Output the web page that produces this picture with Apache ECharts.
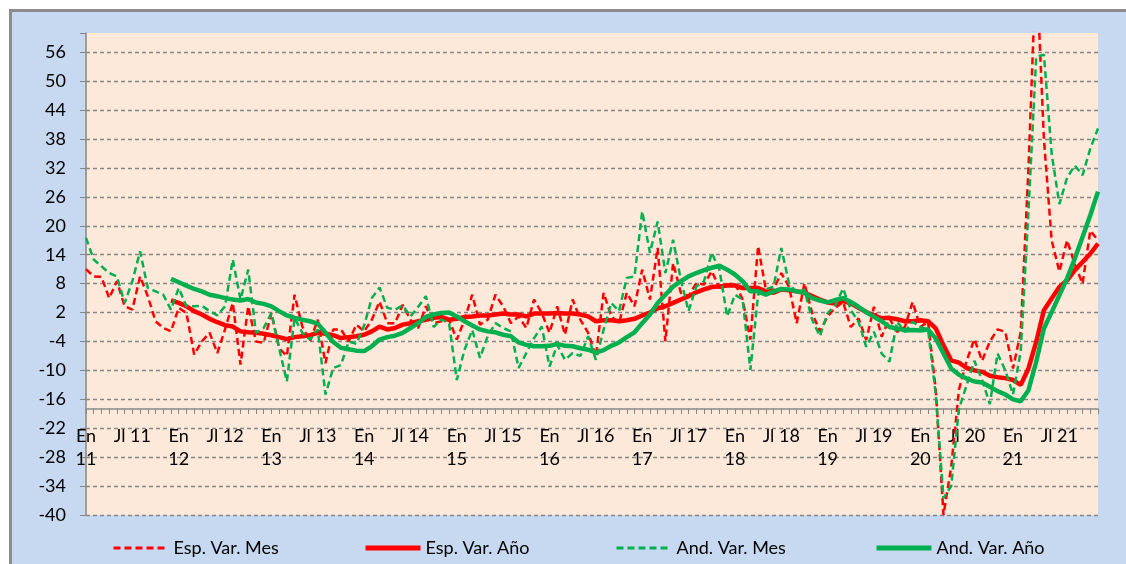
<!DOCTYPE html>
<html>
<head>
<meta charset="utf-8">
<script src="https://cdn.jsdelivr.net/npm/echarts@6/dist/echarts.min.js"></script>
<style>
  html, body { margin: 0; padding: 0; background: #fff; }
  #main { width: 1126px; height: 564px; }
</style>
</head>
<body>
<div id="main"></div>
<script>
// meses: Enero 2011 .. Diciembre 2021
const years = [11, 12, 13, 14, 15, 16, 17, 18, 19, 20, 21];
const months = [];
years.forEach(y => {
  for (let m = 0; m < 12; m++) months.push(y + "-" + (m + 1));
});

// Esp. Var. Mes (rojo discontinuo)
const espMes = [
  11, 9.5, 9.4, 5, 8.5, 3.3, 2.6, 9.5, 5.4, 0.2, -1.2, -1.9,
  3, 1.9, -6.7, -4, -2.2, -6.4, -1.5, 4, -8.8, 3.3, -4, -4.3,
  1.9, -5.4, -7, 5.7, -0.9, -4, 0.5, -8.5, -1.5, -1.5, -4, -0.5,
  -1.9, 0.5, 4.3, -0.2, -0.2, 3.6, 0.5, -1.2, 3.3, -0.2, 0.2, 0.5,
  -3.6, 0.5, 5.7, -0.5, 0.5, 5.7, 3.3, -0.2, 1.2, -1.2, 4.7, 1.9,
  -2.2, 3.3, -2.6, 4.7, 0.5, -2.2, -7.1, 6.1, 1.2, -0.2, 6.1, 3.3,
  10.9, 4.7, 15.4, -4, 12.3, 6.1, 5.4, 8.1, 7.8, 10.6, 7.1, 7.8,
  8.1, 4.7, -3.6, 15.8, 6.8, 6.8, 10.2, 7.4, -0.2, 8.1, 1.9, -1.9,
  1.2, 3, 4.2, -1, 0.8, -3.7, 3.2, -3, 0.8, -2, -1, 4.2,
  -1, 0.1, -14, -40, -30, -14, -8, -3.5, -8, -4, -1.5, -2,
  -9.6, -2, 32, 75, 38, 17, 10.5, 17, 12, 8, 19, 17
];

// Esp. Var. Año (rojo continuo), desde dic 2011
const espAnio = [
  null, null, null, null, null, null, null, null, null, null, null, 4.5,
  4, 3.3, 2.3, 1.6, 0.7, 0, -0.6, -0.9, -1.9, -2.1, -2.2, -2.4,
  -2.7, -3.1, -3.5, -3.1, -2.9, -2.7, -2.2, -2.4, -2.7, -3.3, -3.1, -2.9,
  -2.6, -1.9, -0.9, -1.5, -1.2, -0.5, -0.2, 0.2, 0.5, 0.9, 1.1, 0.5,
  0.7, 1.1, 1.2, 1.4, 1.4, 1.6, 1.8, 1.6, 1.6, 1.2, 1.8, 1.8,
  1.8, 1.9, 1.8, 1.8, 1.6, 1.2, 0.2, 0.4, 0.4, 0.2, 0.4, 0.7,
  1.4, 2.0, 2.9, 3.3, 4.0, 4.7, 5.4, 6.2, 6.8, 7.3, 7.4, 7.6,
  7.6, 7.1, 7.1, 7.1, 6.4, 6.1, 6.8, 6.6, 6.4, 6.1, 5.4, 4.7,
  4.1, 3.9, 4.4, 3.9, 3.0, 2.1, 1.4, 0.8, 0.9, 0.6, 0.2, 0.2,
  0.4, 0.2, -1.3, -4.8, -7.9, -8.4, -9.5, -10, -10.3, -11.1, -11.4, -11.6,
  -12, -13, -9.6, -4.1, 2.5, 4.9, 7.3, 8.7, 10.8, 12.5, 14.2, 16.3
];

// And. Var. Mes (verde discontinuo)
const andMes = [
  17.5, 13, 11.6, 10.2, 9.5, 4, 8.5, 14.7, 7.1, 6.4, 5.7, 2.6,
  7.1, 3.3, 3.3, 3.4, 2.3, 1.4, 3.3, 13, 4.7, 10.9, -2.2, -1.2,
  1.9, -5.4, -12.3, 0.9, -2.2, -3.6, -1.5, -15, -9.5, -8.9, -4, -4.5,
  -0.7, 5, 7.2, 3, 2.6, 3.5, 1.2, 3.2, 5.4, -1, 0.6, -0.2,
  -12, -5.7, -1.6, -7.4, -2.9, -0.2, -1.2, -1.9, -9.5, -6.4, -3.3, -0.9,
  -9.2, -4.7, -7.8, -6.4, -7, -2.9, -7.8, -1.6, 4, 2.3, 9.2, 9.5,
  23, 14.4, 20.9, 10.2, 17.1, 8.8, 2.3, 7.4, 8.5, 14.4, 10.9, 1.2,
  5.7, 4.7, -9.9, 5.7, 6.8, 7.4, 15.4, 8.1, 6.1, 6.8, 0.5, -2.9,
  1.9, 3.5, 7, 2.5, 0.1, -5.1, -2, -6.5, -8.2, 0.1, -2, 0.1,
  -1, -1.5, -15, -36.5, -34, -18, -13, -8, -12, -17, -6.5, -10,
  -15, -6, 23, 55, 55.5, 35, 24.5, 30, 32.5, 30.5, 36, 40.2
];

// And. Var. Año (verde continuo), desde dic 2011
const andAnio = [
  null, null, null, null, null, null, null, null, null, null, null, 9,
  8.3, 7.6, 6.9, 6.4, 5.7, 5.4, 5, 4.7, 4.5, 4.8, 4.1, 3.8,
  3.3, 2.3, 1.4, 0.9, 0.5, 0.2, -0.3, -2.2, -4.1, -5.3, -5.6, -5.9,
  -6.0, -5.0, -3.6, -3.1, -2.8, -2.2, -1.2, -0.2, 1.1, 1.6, 1.9, 2.0,
  1.2, 0.2, -0.7, -1.5, -1.9, -2.1, -2.6, -2.9, -4.2, -4.7, -5.0, -5.0,
  -4.9, -4.5, -4.9, -5.0, -5.4, -5.7, -6.3, -5.8, -4.9, -4.2, -3.1, -2.1,
  -0.2, 1.6, 4.0, 5.7, 7.4, 8.5, 9.5, 10.2, 10.8, 11.3, 11.7, 10.9,
  9.9, 8.5, 6.4, 6.4, 5.7, 6.4, 6.9, 6.8, 6.4, 6.1, 5.0, 4.5,
  4.1, 4.6, 5.0, 4.2, 3.2, 2.1, 1.1, 0.2, -1, -1.3, -1.7, -1.6,
  -1.7, -1.5, -3.4, -6.5, -9.6, -10.9, -11.7, -12.3, -12.5, -13.4, -14.3, -15,
  -16, -16.4, -14.1, -8.2, -1.3, 2.1, 5.6, 9.1, 13.2, 17.7, 22.2, 27.1
];

const seriesNames = ["Esp. Var. Mes", "Esp. Var. Año", "And. Var. Mes", "And. Var. Año"];
const legendLeft = [107, 358, 610, 869];
const legendLineWidth = [3, 5, 3, 5];

const RED = "#FF0000";
const GREEN = "#00B050";
const GRAY = "#868686";
const FONT = "Lato";

const chart = echarts.init(document.getElementById("main"));

function monthLabel(value, index) {
  const yy = years[Math.floor(index / 12)];
  return index % 12 === 0 ? "En\n" + yy : "Jl " + yy;
}

const option = {
  backgroundColor: "#C6D9F1",
  animation: false,
  textStyle: { fontFamily: FONT },
  graphic: [
    // marco exterior (blanco + borde gris arriba e izquierda)
    { type: "rect", left: 0, top: 0, shape: { width: 1126, height: 9 }, style: { fill: "#fff" }, silent: true },
    { type: "rect", left: 0, top: 0, shape: { width: 9, height: 564 }, style: { fill: "#fff" }, silent: true },
    { type: "rect", left: 9, top: 9, shape: { width: 1117, height: 3 }, style: { fill: "#8C8C8C" }, silent: true },
    { type: "rect", left: 9, top: 9, shape: { width: 3, height: 555 }, style: { fill: "#8C8C8C" }, silent: true }
  ],
  grid: {
    left: 86, right: 28, top: 33, bottom: 49,
    show: true, backgroundColor: "#FDE9D9", borderWidth: 0
  },
  legend: seriesNames.map((name, i) => ({
    data: [name],
    left: legendLeft[i],
    top: 534,
    itemWidth: 55,
    itemHeight: 14,
    itemStyle: { opacity: 0 },
    lineStyle: { width: legendLineWidth[i] },
    textStyle: { fontSize: 18, color: "#000", fontFamily: FONT }
  })),
  xAxis: {
    type: "category",
    data: months,
    boundaryGap: false,
    offset: -106,
    axisLine: { show: true, onZero: false, lineStyle: { color: GRAY, width: 1.5 } },
    axisTick: { show: true, interval: 0, length: 5, lineStyle: { color: GRAY, width: 1 } },
    axisLabel: {
      interval: 5,
      formatter: monthLabel,
      fontSize: 18,
      lineHeight: 23,
      color: "#000",
      margin: 16,
      fontFamily: FONT
    },
    splitLine: { show: false }
  },
  yAxis: {
    type: "value",
    min: -40,
    max: 60,
    interval: 6,
    axisLine: { show: true, lineStyle: { color: GRAY, width: 1.5 } },
    axisTick: { show: true, length: 6, lineStyle: { color: GRAY } },
    axisLabel: {
      fontSize: 18,
      color: "#000",
      margin: 20,
      fontFamily: FONT,
      formatter: v => (v > 56 ? "" : v)
    },
    splitLine: {
      show: true,
      showMaxLine: false,
      lineStyle: { color: GRAY, width: 1.3, type: [4, 3] }
    }
  },
  series: [
    {
      name: seriesNames[0], type: "line", data: espMes, symbol: "none",
      lineStyle: { color: RED, width: 2.5, type: [7, 4] }, itemStyle: { color: RED }
    },
    {
      name: seriesNames[1], type: "line", data: espAnio, symbol: "none",
      lineStyle: { color: RED, width: 4.5 }, itemStyle: { color: RED }
    },
    {
      name: seriesNames[2], type: "line", data: andMes, symbol: "none",
      lineStyle: { color: GREEN, width: 2.5, type: [7, 4] }, itemStyle: { color: GREEN }
    },
    {
      name: seriesNames[3], type: "line", data: andAnio, symbol: "none",
      lineStyle: { color: GREEN, width: 4.5 }, itemStyle: { color: GREEN }
    }
  ]
};

chart.setOption(option);
</script>
</body>
</html>
